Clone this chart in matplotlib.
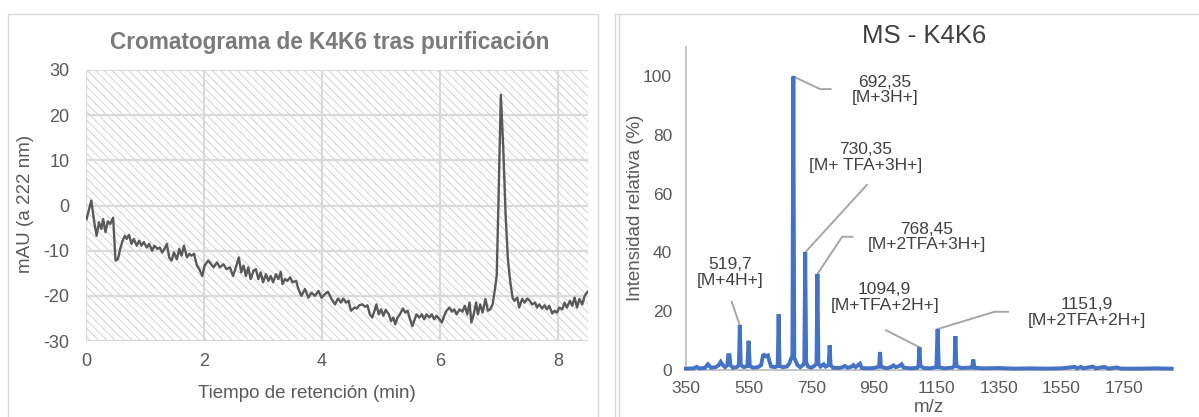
import matplotlib
matplotlib.use('Agg')
import matplotlib.pyplot as plt
from matplotlib.patches import Rectangle
from matplotlib.lines import Line2D

plt.rcParams['font.family'] = ['Liberation Sans', 'DejaVu Sans']
plt.rcParams['hatch.linewidth'] = 0.7
plt.rcParams['axes.unicode_minus'] = False

# ---------------- data: chromatogram ----------------
time_min = [0.01, 0.09, 0.14, 0.18, 0.22, 0.26, 0.29, 0.33, 0.37, 0.41, 0.46, 0.50, 0.54, 0.58,
            0.62, 0.66, 0.69, 0.73, 0.77, 0.81, 0.86, 0.90, 0.94, 0.98, 1.03, 1.07, 1.12, 1.16,
            1.21, 1.25, 1.29, 1.33, 1.37, 1.41, 1.45, 1.49, 1.54, 1.58, 1.62, 1.66, 1.71, 1.75,
            1.79, 1.83, 1.88, 1.92, 1.97, 2.01, 2.07, 2.12, 2.16, 2.22, 2.27, 2.33, 2.38, 2.44,
            2.49, 2.53, 2.59, 2.63, 2.67, 2.71, 2.75, 2.79, 2.84, 2.88, 2.92, 2.96, 3.00, 3.05,
            3.09, 3.13, 3.17, 3.22, 3.26, 3.30, 3.33, 3.37, 3.41, 3.46, 3.50, 3.56, 3.60, 3.65,
            3.71, 3.77, 3.82, 3.88, 3.94, 3.99, 4.05, 4.10, 4.16, 4.22, 4.27, 4.32, 4.36, 4.41,
            4.45, 4.49, 4.55, 4.59, 4.63, 4.68, 4.73, 4.77, 4.81, 4.85, 4.89, 4.92, 4.96, 5.00,
            5.04, 5.08, 5.13, 5.17, 5.21, 5.24, 5.28, 5.32, 5.37, 5.41, 5.45, 5.49, 5.53, 5.57,
            5.60, 5.65, 5.69, 5.73, 5.77, 5.82, 5.86, 5.90, 5.94, 5.99, 6.03, 6.07, 6.11, 6.16,
            6.20, 6.24, 6.28, 6.33, 6.38, 6.42, 6.46, 6.50, 6.53, 6.57, 6.61, 6.64, 6.68, 6.72,
            6.77, 6.81, 6.85, 6.89, 6.93, 6.96, 6.99, 7.03, 7.07, 7.11, 7.15, 7.19, 7.23, 7.26,
            7.31, 7.34, 7.39, 7.43, 7.48, 7.52, 7.56, 7.61, 7.64, 7.68, 7.73, 7.77, 7.81, 7.85,
            7.90, 7.94, 7.98, 8.02, 8.07, 8.11, 8.15, 8.20, 8.24, 8.28, 8.32, 8.36, 8.41, 8.45,
            8.50]
mau = [-3.0, 1.1, -3.7, -6.7, -3.7, -5.2, -3.0, -5.9, -3.5, -4.1, -2.7, -12.2, -11.9, -9.6,
       -7.8, -6.7, -7.4, -6.5, -8.5, -7.4, -8.9, -7.8, -8.9, -8.1, -9.3, -8.5, -10.0, -8.9,
       -9.6, -9.3, -10.4, -9.6, -8.5, -11.5, -12.2, -10.4, -11.9, -9.6, -11.1, -8.9, -11.5, -10.7,
       -11.1, -10.7, -13.3, -14.1, -15.6, -13.3, -12.2, -13.0, -13.7, -12.6, -13.7, -13.0, -14.1, -13.7,
       -15.6, -14.1, -11.5, -14.8, -13.3, -15.6, -13.7, -16.3, -14.4, -14.1, -16.3, -14.8, -17.0, -15.2,
       -16.7, -15.6, -17.0, -15.2, -16.3, -14.7, -17.4, -16.3, -16.7, -15.9, -17.0, -16.7, -18.5, -20.0,
       -18.5, -20.4, -19.3, -20.0, -18.9, -20.4, -19.6, -19.1, -20.7, -21.9, -20.6, -21.5, -20.6, -21.5,
       -21.1, -23.3, -22.6, -22.8, -22.1, -21.9, -22.4, -22.1, -24.1, -24.8, -23.3, -21.9, -24.1, -23.0,
       -24.4, -23.1, -24.1, -25.6, -24.8, -26.3, -24.8, -24.1, -22.8, -23.7, -23.3, -25.2, -26.7, -25.2,
       -24.1, -24.8, -24.1, -25.2, -24.1, -24.8, -24.1, -25.2, -24.4, -25.2, -25.9, -24.4, -23.3, -22.6,
       -23.5, -23.0, -24.1, -23.0, -23.5, -22.2, -24.1, -21.5, -25.9, -24.1, -21.5, -24.1, -21.9, -23.7,
       -20.7, -23.3, -23.0, -21.9, -18.5, -15.5, 1.0, 24.5, 13.0, -2.0, -12.0, -17.0, -20.5, -21.1,
       -20.4, -22.6, -20.7, -21.5, -20.6, -21.1, -21.9, -21.5, -22.6, -21.9, -22.8, -22.1, -23.0, -22.2,
       -23.9, -23.3, -23.7, -22.6, -23.0, -21.5, -22.6, -21.1, -22.2, -20.4, -22.6, -20.7, -21.9, -20.0,
       -19.1]
chrom_xticks = [0, 2, 4, 6, 8]
chrom_yticks = [-30, -20, -10, 0, 10, 20, 30]

# ---------------- data: mass spectrum ----------------
mz = [350, 375, 384, 392, 410, 420, 430, 445, 455, 461, 467, 475, 482, 485, 489, 492, 500, 512,
      519, 522, 525, 535, 546, 550, 554, 565, 580, 590, 596, 600, 606, 612, 616, 622, 635, 643,
      646, 649, 660, 672, 680, 686, 690, 693, 696, 700, 706, 715, 724, 728, 731, 734, 740, 750,
      760, 767, 770, 773, 780, 790, 796, 806, 809, 812, 820, 840, 850, 858, 866, 880, 885, 892,
      900, 906, 912, 930, 950, 967, 970, 973, 990, 1005, 1013, 1020, 1032, 1039, 1046, 1070, 1090,
      1093, 1096, 1099, 1110, 1130, 1150, 1154, 1158, 1175, 1200, 1208, 1211, 1214, 1230, 1264,
      1268, 1272, 1300, 1350, 1400, 1450, 1500, 1550, 1592, 1600, 1612, 1620, 1650, 1660, 1687,
      1700, 1726, 1740, 1800, 1850, 1902]
intensity = [0.3, 0.4, 0.9, 0.4, 0.5, 1.8, 0.6, 0.8, 1.5, 2.6, 1.6, 0.8, 1.5, 4.9, 4.9, 1.5, 0.6, 0.8,
             1.5, 15.1, 1.5, 0.8, 1.2, 9.8, 1.2, 0.6, 0.8, 1.5, 4.8, 5.0, 4.5, 4.8, 3.0, 1.0, 0.8, 1.2,
             18.9, 1.2, 0.8, 1.0, 2.0, 3.8, 4.0, 100.0, 4.0, 3.0, 1.5, 0.8, 1.5, 2.5, 40.0, 2.5, 1.0, 0.6,
             1.2, 2.0, 32.6, 2.0, 1.0, 1.8, 1.0, 1.5, 8.3, 1.5, 0.6, 0.5, 0.8, 1.2, 0.6, 1.0, 1.5, 0.8,
             1.5, 2.0, 0.5, 0.4, 0.5, 1.0, 6.0, 1.0, 0.4, 0.8, 1.4, 0.8, 1.2, 1.8, 0.6, 0.4, 0.6,
             1.2, 7.6, 1.2, 0.5, 0.4, 0.8, 13.8, 0.8, 0.4, 0.6, 1.2, 11.4, 1.2, 0.5, 0.7,
             3.4, 0.6, 0.4, 0.5, 0.3, 0.4, 0.3, 0.4, 0.9, 0.4, 0.9, 0.4, 1.0, 0.4, 0.9,
             0.3, 0.7, 0.3, 0.3, 0.4, 0.3]
ms_xticks = [350, 550, 750, 950, 1150, 1350, 1550, 1750]
ms_yticks = [0, 20, 40, 60, 80, 100]

peak_labels = ['692,35\n[M+3H+]', '730,35\n[M+ TFA+3H+]', '768,45\n[M+2TFA+3H+]',
               '519,7\n[M+4H+]', '1094,9\n[M+TFA+2H+]', '1151,9\n[M+2TFA+2H+]']
peak_label_mz = [693, 731, 770, 522, 1096, 1154]
peak_label_int = [100.0, 40.0, 32.6, 15.1, 7.6, 13.8]

# ---------------- layout helpers ----------------
W, H = 1199, 417
fig = plt.figure(figsize=(W / 100, H / 100), dpi=100)


def fx(px):
    return px / W


def fy(py):
    return 1 - py / H


border = '#d9d9d9'
fig.add_artist(Rectangle((fx(7.5), fy(420)), fx(597.5) - fx(7.5), fy(13.5) - fy(420),
                         transform=fig.transFigure, fill=False, edgecolor=border, lw=1.0))
for xx in (614.5, 618.5):
    fig.add_artist(Line2D([fx(xx), fx(xx)], [fy(13.5), 0], transform=fig.transFigure,
                          color=border, lw=1.0))
fig.add_artist(Line2D([fx(614.5), 1], [fy(13.5), fy(13.5)], transform=fig.transFigure,
                      color=border, lw=1.0))

# ---------------- left: chromatogram ----------------
ax1 = fig.add_axes([fx(86), fy(341), (587.6 - 86) / W, (341 - 70) / H])
ax1.add_patch(Rectangle((0, 0), 1, 1, transform=ax1.transAxes, facecolor='white',
                        edgecolor='#d2d2d2', hatch='\\\\\\\\', lw=0, zorder=0.1))
ax1.plot(time_min, mau, color='#595959', lw=1.7, zorder=3)
ax1.set_xlim(0, 8.5)
ax1.set_ylim(-30, 30)
ax1.set_xticks(chrom_xticks)
ax1.set_yticks(chrom_yticks)
ax1.set_axisbelow(True)
ax1.grid(True, color='#d9d9d9', lw=1.6)
for s in ax1.spines.values():
    s.set_visible(False)
ax1.tick_params(axis='both', length=0, labelsize=13, labelcolor='#595959')
ax1.tick_params(axis='y', pad=12)
ax1.tick_params(axis='x', pad=9)

fig.text(fx(330), fy(42), 'Cromatograma de K4K6 tras purificación', ha='center', va='center',
         fontsize=16.3, fontweight='bold', color='#7a7a7a')
fig.text(fx(307), fy(393), 'Tiempo de retención (min)', ha='center', va='center',
         fontsize=13.5, color='#595959')
fig.text(fx(26), fy(204), 'mAU (a 222 nm)', ha='center', va='center', rotation=90,
         fontsize=13.5, color='#595959')

# ---------------- right: mass spectrum ----------------
ax2 = fig.add_axes([fx(686), fy(369.5), (1172.6 - 686) / W, (369.5 - 47.2) / H])
ax2.plot(mz, intensity, color='#4472C4', lw=2.8, clip_on=False, zorder=3,
         solid_joinstyle='miter')
ax2.set_xlim(350, 1905)
ax2.set_ylim(0, 110)
ax2.set_xticks(ms_xticks)
ax2.set_yticks(ms_yticks)
for k, s in ax2.spines.items():
    if k in ('left', 'bottom'):
        s.set_color('#bfbfbf')
        s.set_linewidth(1.3)
    else:
        s.set_visible(False)
ax2.tick_params(axis='both', length=0, labelsize=12.5, labelcolor='#595959')
ax2.tick_params(axis='y', pad=10)
ax2.tick_params(axis='x', pad=8)

leader = dict(color='#a6a6a6', lw=1.4, zorder=2, clip_on=False)
# text anchors (mz, intensity) and leader paths
text_pos = [(985, 95.4), (925, 72.4), (1120, 45.2), (492, 33.1), (985, 24.6), (1630, 19.5)]
leader_paths = [
    [(779, 95.7), (812, 95.7)],
    [(928, 63.0)],
    [(849, 45.3), (882, 45.3)],
    [(496, 23.1)],
    [(989, 13.4)],
    [(1336, 19.7), (1379, 19.7)],
]
for lab, pmz, pint, (tx, ty), path in zip(peak_labels, peak_label_mz, peak_label_int,
                                          text_pos, leader_paths):
    xs = [pmz] + [p[0] for p in path]
    ys = [pint] + [p[1] for p in path]
    ax2.plot(xs, ys, **leader)
    ax2.text(tx, ty, lab, ha='center', va='center', fontsize=12.5, color='#404040',
             linespacing=1.05)

fig.text(fx(924), fy(36), 'MS - K4K6', ha='center', va='center', fontsize=18.5,
         color='#404040')
fig.text(fx(929), fy(408), 'm/z', ha='center', va='center', fontsize=13.5, color='#595959')
fig.text(fx(636), fy(208), 'Intensidad relativa (%)', ha='center', va='center', rotation=90,
         fontsize=13.5, color='#595959')

fig.savefig('out.png', dpi=100)
